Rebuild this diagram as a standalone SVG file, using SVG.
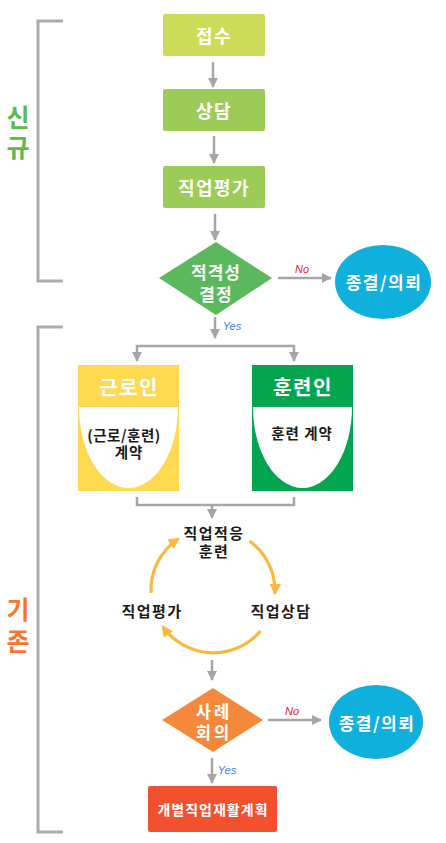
<svg xmlns="http://www.w3.org/2000/svg" width="446" height="843" viewBox="0 0 446 843">
<style>
.t{font-family:"Noto Sans CJK KR","Noto Sans",sans-serif;font-weight:bold;text-anchor:middle;dominant-baseline:central}
.w{fill:#ffffff}
.k{fill:#1a1a1a}
.g{fill:none;stroke:#a6a6a6;stroke-width:2.5}
.br{fill:none;stroke:#ababab;stroke-width:3}
.o{fill:none;stroke:#fbb83e;stroke-width:3.2}
.no{font-family:"Liberation Sans",Arial,sans-serif;font-style:italic;font-size:11px;fill:#e8202a}
.yes{font-family:"Liberation Sans",Arial,sans-serif;font-style:italic;font-size:11px;fill:#3c7df2}
</style>
<defs>
<marker id="ag" viewBox="0 0 10 10" refX="9" refY="5" markerWidth="4" markerHeight="4" orient="auto-start-reverse" markerUnits="strokeWidth">
<path d="M0,0 L10,5 L0,10 Z" fill="#a6a6a6"/>
</marker>
<marker id="ao" viewBox="0 0 10 10" refX="8" refY="5" markerWidth="3.6" markerHeight="3.6" orient="auto" markerUnits="strokeWidth">
<path d="M0,0 L10,5 L0,10 Z" fill="#fbb83e"/>
</marker>
</defs>

<g id="brackets">
<path class="br" d="M63,21 H38 V281 H63"/>
<path class="br" d="M63,327 H38 V832 H63"/>
<text class="t" font-size="25" fill="#5abb4a"><tspan x="18" y="116">신</tspan><tspan x="18" y="146">규</tspan></text>
<text class="t" font-size="25" fill="#f5762e"><tspan x="18" y="608">기</tspan><tspan x="18" y="640">존</tspan></text>
</g>

<g id="connectors">
<path class="g" d="M213,62 V87" marker-end="url(#ag)"/>
<path class="g" d="M214,136 V163" marker-end="url(#ag)"/>
<path class="g" d="M215,214 V240" marker-end="url(#ag)"/>
<path class="g" d="M278,278 H331" marker-end="url(#ag)"/>
<text class="no" x="302" y="273" text-anchor="middle">No</text>
<path class="g" d="M215,317 V338" marker-end="url(#ag)"/>
<text class="yes" x="232" y="330" text-anchor="middle">Yes</text>
<path class="g" d="M137,361 V346 H294 V361" marker-start="url(#ag)" marker-end="url(#ag)"/>
<path class="g" d="M137,497 V505 H294 V497"/>
<path class="g" d="M212,505 V518" marker-end="url(#ag)"/>
<path class="o" d="M151,593 A62,62 0 0 1 178,539" marker-end="url(#ao)"/>
<path class="o" d="M249.5,541 A62,62 0 0 1 275,593" marker-end="url(#ao)"/>
<path class="o" d="M260.5,631 A62,62 0 0 1 163,627" marker-end="url(#ao)"/>
<path class="g" d="M212,660 V680" marker-end="url(#ag)"/>
<path class="g" d="M268,720 H321" marker-end="url(#ag)"/>
<text class="no" x="292" y="715" text-anchor="middle">No</text>
<path class="g" d="M212,758 V783" marker-end="url(#ag)"/>
<text class="yes" x="227" y="774" text-anchor="middle">Yes</text>
</g>

<g id="n-jeopsu">
<rect x="163" y="14" width="102" height="42" rx="2" fill="#cddc58"/>
<text class="t w" x="214" y="35" font-size="18" letter-spacing="1.5">접수</text>
</g>
<g id="n-sangdam">
<rect x="163" y="89" width="102" height="42" rx="2" fill="#9dcb58"/>
<text class="t w" x="214" y="110" font-size="18" letter-spacing="1.5">상담</text>
</g>
<g id="n-jigeop">
<rect x="163" y="166" width="102" height="42" rx="2" fill="#9dcb58"/>
<text class="t w" x="214" y="187" font-size="18" letter-spacing="1.5">직업평가</text>
</g>
<g id="n-decision1">
<polygon points="216,242 272,278 216,315 159,278" fill="#5cb85c"/>
<text class="t w" font-size="17" letter-spacing="1"><tspan x="216" y="271">적격성</tspan><tspan x="216" y="293">결정</tspan></text>
</g>
<g id="n-end1">
<ellipse cx="383" cy="282" rx="48" ry="37" fill="#0fb0dc"/>
<text class="t w" x="384" y="281" font-size="17" letter-spacing="1.5">종결/의뢰</text>
</g>

<g id="n-worker">
<rect x="78" y="365" width="101" height="126" fill="#ffd950"/>
<path d="M79,407 H178 A49.5,81 0 0 1 128.5,488 A49.5,81 0 0 1 79,407 Z" fill="#ffffff"/>
<text class="t w" x="129" y="386" font-size="20" letter-spacing="1.5">근로인</text>
<text class="t k" font-size="14.5"><tspan x="124" y="434" letter-spacing="0.5">(근로/훈련)</tspan><tspan x="129" y="451" letter-spacing="1">계약</tspan></text>
</g>
<g id="n-trainee">
<rect x="252" y="365" width="101" height="126" fill="#03a64f"/>
<path d="M253,407 H352 A49.5,81 0 0 1 302.5,488 A49.5,81 0 0 1 253,407 Z" fill="#ffffff"/>
<text class="t w" x="303" y="386" font-size="20" letter-spacing="1.5">훈련인</text>
<text class="t k" x="302" y="432" font-size="14.5" letter-spacing="1">훈련 계약</text>
</g>

<g id="n-training">
<text class="t k" font-size="15" letter-spacing="1.5"><tspan x="214" y="532">직업적응</tspan><tspan x="214" y="550">훈련</tspan></text>
</g>
<g id="n-eval2">
<text class="t k" x="152" y="610" font-size="15" letter-spacing="1.5">직업평가</text>
</g>
<g id="n-counsel2">
<text class="t k" x="281" y="610" font-size="15" letter-spacing="1.5">직업상담</text>
</g>

<g id="n-decision2">
<polygon points="213,688 263,720 213,752 162,720" fill="#f5893b"/>
<text class="t w" font-size="16.5" letter-spacing="3"><tspan x="214" y="711">사례</tspan><tspan x="214" y="732">회의</tspan></text>
</g>
<g id="n-end2">
<ellipse cx="376" cy="722" rx="47" ry="37" fill="#0fb0dc"/>
<text class="t w" x="377" y="722" font-size="17" letter-spacing="1.5">종결/의뢰</text>
</g>
<g id="n-plan">
<rect x="148" y="786" width="129" height="46" rx="2" fill="#f2502f"/>
<text class="t w" x="213" y="809" font-size="14" letter-spacing="1">개별직업재활계획</text>
</g>
</svg>
